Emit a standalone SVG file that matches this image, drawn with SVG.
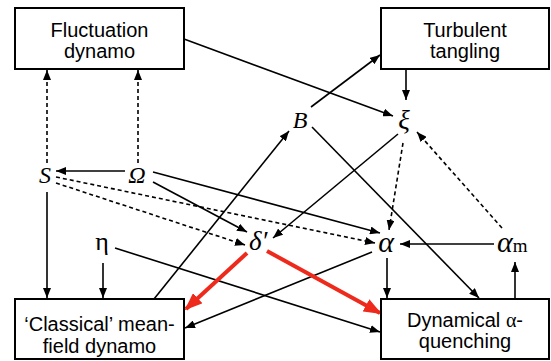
<svg xmlns="http://www.w3.org/2000/svg" width="551" height="361" viewBox="0 0 551 361">
  <style>
    .box rect { fill: #fff; stroke: #000; stroke-width: 2; }
    .box text { font-family: "Liberation Sans", Arial, sans-serif; font-size: 20px; text-anchor: middle; fill: #000; }
    .sym text { font-family: "Liberation Serif", "Times New Roman", serif; font-size: 24px; font-style: italic; fill: #000; }
    .sym .greek { font-size: 27px; }
    .sym .big { font-size: 30px; }
    .sym .upright { font-style: normal; font-size: 26px; }
    .edge { fill: none; stroke: #000; stroke-width: 1.6; }
    .dash { stroke-dasharray: 4 3; }
    .red { fill: none; stroke: #ee2a1c; stroke-width: 4; }
  </style>
  <defs>
    <marker id="arrow" viewBox="0 0 10 8" markerWidth="10" markerHeight="8" refX="10" refY="4" orient="auto" markerUnits="userSpaceOnUse">
      <path d="M0,0 L10,4 L0,8 z" fill="#000"/>
    </marker>
    <marker id="arrow-red" viewBox="0 0 18 14" markerWidth="18" markerHeight="14" refX="16" refY="7" orient="auto" markerUnits="userSpaceOnUse">
      <path d="M0,0 L18,7 L0,14 z" fill="#ee2a1c"/>
    </marker>
  </defs>

  <!-- connectors -->
  <g id="connectors">
    <path class="edge" marker-end="url(#arrow)" d="M184,39 L393,116"/>
    <path class="edge" marker-end="url(#arrow)" d="M406,69 L406,100"/>
    <path class="edge" marker-end="url(#arrow)" d="M311,107 L380,55"/>
    <path class="edge" marker-end="url(#arrow)" d="M154,299 L289,131"/>
    <path class="edge" marker-end="url(#arrow)" d="M312,127 L479,298"/>
    <path class="edge" marker-end="url(#arrow)" d="M398,134 L273,238"/>
    <path class="edge" marker-end="url(#arrow)" d="M494,244 L400,244"/>
    <path class="edge" marker-end="url(#arrow)" d="M515,299 L515,262"/>
    <path class="edge" marker-end="url(#arrow)" d="M387,258 L387,298"/>
    <path class="edge" marker-end="url(#arrow)" d="M372,252 L185,328"/>
    <path class="edge" marker-end="url(#arrow)" d="M115,248 L380,332"/>
    <path class="edge" marker-end="url(#arrow)" d="M125,171 L56,171"/>
    <path class="edge" marker-end="url(#arrow)" d="M153,172 L380,233"/>
    <path class="edge" marker-end="url(#arrow)" d="M153,182 L247,232"/>
    <path class="edge" marker-end="url(#arrow)" d="M47,192 L47,298"/>
    <path class="edge" marker-end="url(#arrow)" d="M103,263 L103,298"/>

    <path class="edge dash" marker-end="url(#arrow)" d="M403,143 L389,230"/>
    <path class="edge dash" marker-end="url(#arrow)" d="M502,228 L417,132"/>
    <path class="edge dash" marker-end="url(#arrow)" d="M47,163 L47,70"/>
    <path class="edge dash" marker-end="url(#arrow)" d="M138,163 L138,70"/>
    <path class="edge dash" marker-end="url(#arrow)" d="M56,177 L375,243"/>
    <path class="edge dash" marker-end="url(#arrow)" d="M56,183 L245,245"/>

    <path class="red" marker-end="url(#arrow-red)" d="M247,253 L186,309"/>
    <path class="red" marker-end="url(#arrow-red)" d="M267,251 L380,313"/>
  </g>

  <!-- boxes -->
  <g id="fluctuation-dynamo" class="box">
    <rect x="15" y="8" width="169" height="61"/>
    <text x="99.5" y="36.5">Fluctuation</text>
    <text x="99.5" y="58">dynamo</text>
  </g>
  <g id="turbulent-tangling" class="box">
    <rect x="381" y="8" width="168" height="61"/>
    <text x="465" y="36.5">Turbulent</text>
    <text x="465" y="58">tangling</text>
  </g>
  <g id="classical-dynamo" class="box">
    <rect x="15" y="299" width="169" height="60"/>
    <text x="99.5" y="331">‘Classical’ mean-</text>
    <text x="99.5" y="352.5">field dynamo</text>
  </g>
  <g id="alpha-quenching" class="box">
    <rect x="381" y="299" width="168" height="60"/>
    <text x="465" y="327">Dynamical <tspan font-family="'Liberation Serif', serif">α</tspan>-</text>
    <text x="465" y="348">quenching</text>
  </g>

  <!-- symbols -->
  <g class="sym">
    <g id="S"><text x="45" y="183" text-anchor="middle">S</text></g>
    <g id="Omega"><text x="137" y="183" text-anchor="middle">Ω</text></g>
    <g id="B"><text x="300" y="128" text-anchor="middle">B</text></g>
    <g id="xi"><text class="greek" x="404" y="129" text-anchor="middle">ξ</text></g>
    <g id="delta"><text class="greek" x="249" y="250">δ′</text></g>
    <g id="alpha"><text class="big" x="386" y="252" text-anchor="middle">α</text></g>
    <g id="alpha-m"><text class="big" x="497" y="252">α<tspan font-style="normal" font-size="19">m</tspan></text></g>
    <g id="eta"><text class="upright" x="102" y="250" text-anchor="middle">η</text></g>
  </g>
</svg>
